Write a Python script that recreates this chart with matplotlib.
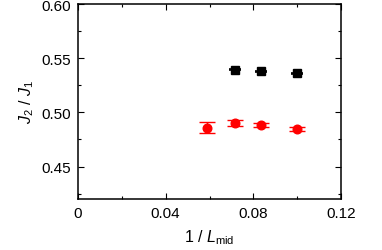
import numpy as np
import matplotlib
matplotlib.use('Agg')
import matplotlib.pyplot as plt
from matplotlib.ticker import MultipleLocator

plt.rcParams['font.family'] = ['Liberation Sans', 'DejaVu Sans']
plt.rcParams['mathtext.fontset'] = 'custom'
plt.rcParams['mathtext.rm'] = 'Liberation Sans'
plt.rcParams['mathtext.it'] = 'Liberation Sans:italic'

# black squares
x_sq = [1/14, 1/12, 1/10]
y_sq = [0.5394, 0.5378, 0.5359]
e_sq = [0.0006, 0.0005, 0.0005]

# red circles
x_ci = [1/17, 1/14, 1/12, 1/10]
y_ci = [0.4860, 0.4903, 0.4884, 0.4844]
e_ci = [0.0055, 0.0030, 0.0018, 0.0020]

fig = plt.figure(figsize=(3.82, 2.51), dpi=100)
ax = fig.add_axes([0.204, 0.203, 0.689, 0.777])

ax.errorbar(x_sq, y_sq, yerr=e_sq, fmt='s', color='black', ms=5.4,
            capsize=4, elinewidth=1, capthick=1.2)
ax.errorbar(x_ci, y_ci, yerr=e_ci, fmt='o', color='red', ms=6.2,
            capsize=5.5, elinewidth=1, capthick=1)

ax.set_xlim(0, 0.12)
ax.set_ylim(0.42, 0.60)
ax.set_xticks([0, 0.04, 0.08, 0.12])
ax.set_xticklabels(['0', '0.04', '0.08', '0.12'])
ax.set_yticks([0.45, 0.50, 0.55, 0.60])
ax.set_yticklabels(['0.45', '0.50', '0.55', '0.60'])
ax.xaxis.set_minor_locator(MultipleLocator(0.02))
ax.yaxis.set_minor_locator(MultipleLocator(0.025))
ax.tick_params(which='both', direction='in', top=True, right=True,
               labelsize=11, width=0.8)
ax.tick_params(which='major', length=4)
ax.tick_params(axis='y', which='major', pad=5)
ax.tick_params(axis='x', which='major', pad=5)
ax.tick_params(which='minor', length=2.5)
for s in ax.spines.values():
    s.set_linewidth(1.1)

ax.set_xlabel(r'1 / $L_{\rm mid}$', fontsize=11.5, labelpad=5)
ax.set_ylabel(r'$J_2$ / $J_1$', fontsize=11.5, labelpad=4)

fig.savefig('out.png', dpi=100)
